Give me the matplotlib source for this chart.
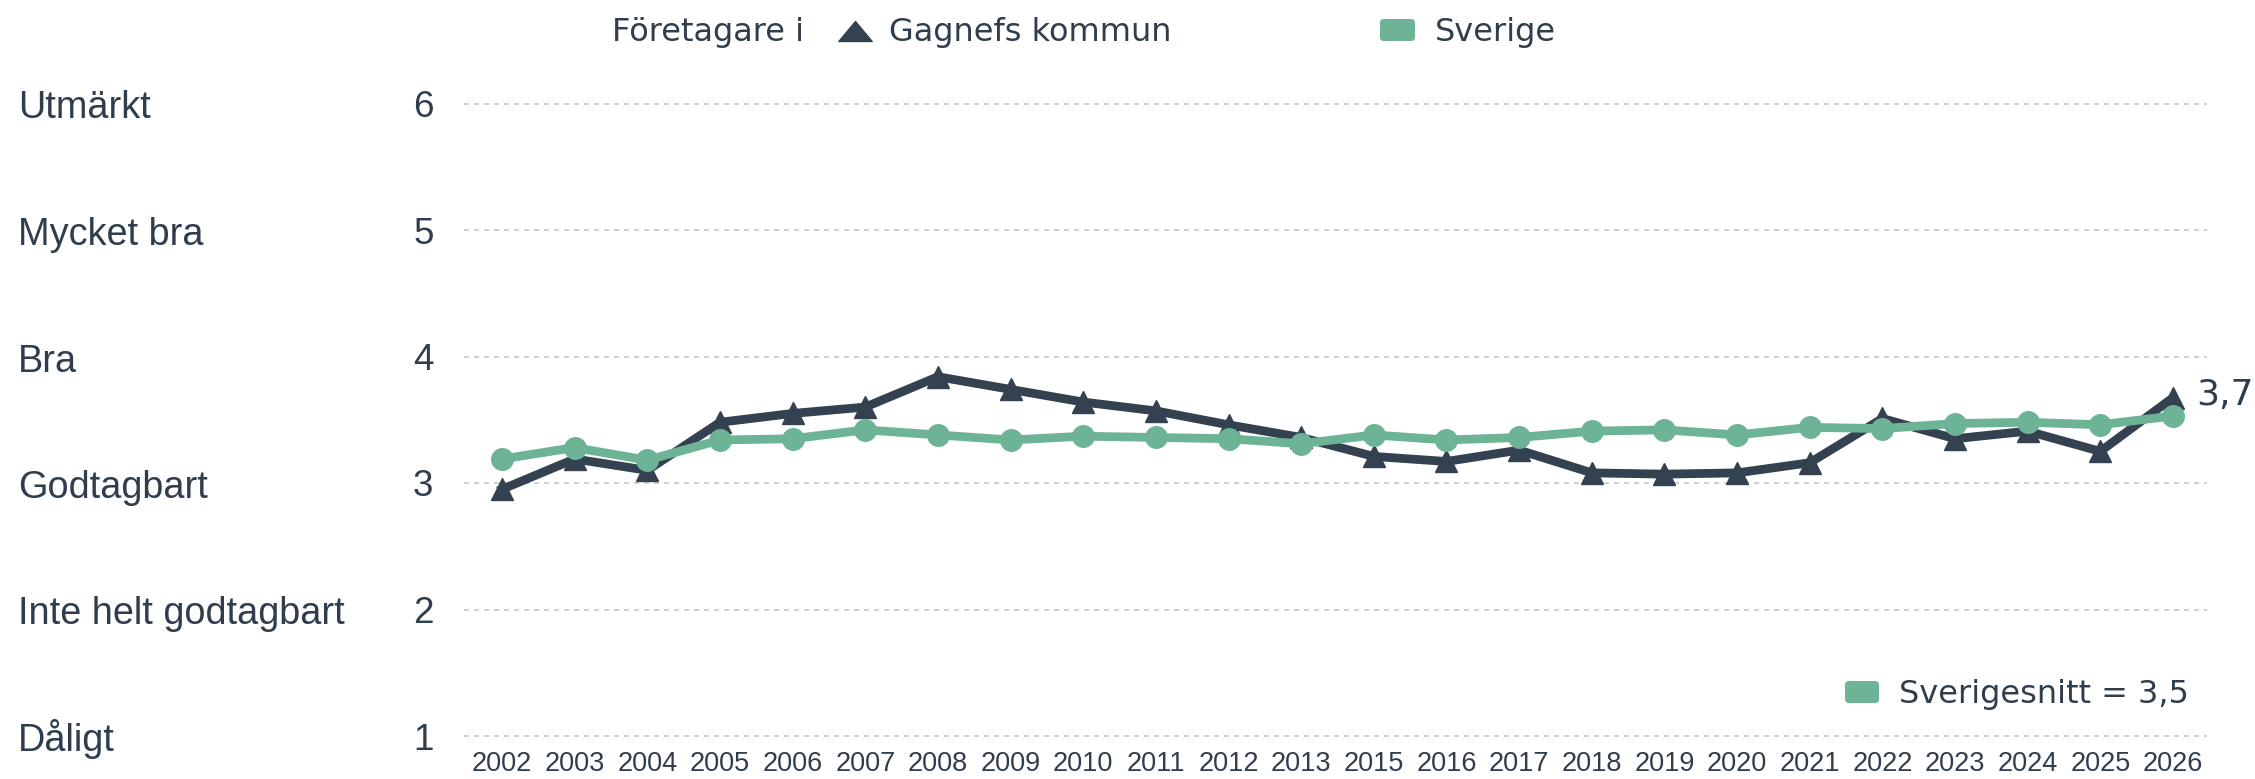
import matplotlib
matplotlib.use("Agg")
import matplotlib.pyplot as plt
from matplotlib.patches import FancyBboxPatch
from matplotlib.lines import Line2D
from matplotlib.path import Path
from matplotlib.transforms import blended_transform_factory, IdentityTransform

# ---------------- data ----------------
years = ["2002", "2003", "2004", "2005", "2006", "2007", "2008", "2009", "2010",
         "2011", "2012", "2013", "2015", "2016", "2017", "2018", "2019", "2020",
         "2021", "2022", "2023", "2024", "2025", "2026"]
gagnef = [2.95, 3.19, 3.10, 3.48, 3.55, 3.60, 3.84, 3.74, 3.64, 3.57, 3.46, 3.36,
          3.21, 3.17, 3.26, 3.08, 3.07, 3.08, 3.16, 3.51, 3.35, 3.41, 3.25, 3.675]
sverige = [3.19, 3.28, 3.18, 3.34, 3.35, 3.42, 3.38, 3.34, 3.37, 3.36, 3.35, 3.31,
           3.38, 3.34, 3.36, 3.41, 3.42, 3.38, 3.44, 3.43, 3.47, 3.48, 3.46, 3.53]
rating_levels = [1, 2, 3, 4, 5, 6]
rating_labels = ["Dåligt", "Inte helt godtagbart", "Godtagbart", "Bra",
                 "Mycket bra", "Utmärkt"]
legend_prefix = "Företagare i"
series_names = ["Gagnefs kommun", "Sverige"]
sverigesnitt = 3.5

# ---------------- style ----------------
DARK = "#334150"
GREEN = "#6db396"
TEXT = "#2f3d4c"
GRID = "#c8c8c8"
W, H = 2255, 779

fig = plt.figure(figsize=(W / 100, H / 100), dpi=100)
fig.patch.set_facecolor("white")
ax = fig.add_axes([464 / W, 1 - 736 / H, (2207 - 464) / W, (736 - 103.5) / H])

x = list(range(len(years)))
ax.plot(x, gagnef, color=DARK, lw=6.3, marker="^", ms=16, zorder=3,
        clip_on=False)
ax.plot(x, sverige, color=GREEN, lw=6.3, marker="o", ms=15.5, zorder=4,
        clip_on=False)

ax.set_xlim(-0.523, 23.468)
ax.set_ylim(1, 6)
ax.set_xticks(x)
ax.set_xticklabels(years, fontfamily="Liberation Sans", fontsize=19.5, color=TEXT)
ax.set_yticks(rating_levels)
ax.set_yticklabels([str(v) for v in rating_levels], fontfamily="Liberation Sans",
                   fontsize=26.5, color=TEXT)
ax.tick_params(axis="x", length=0, pad=11)
ax.tick_params(axis="y", length=0, pad=22)
ax.grid(axis="y", color=GRID, lw=1.2, ls=(0, (3, 3)))
ax.grid(axis="x", visible=False)
ax.set_axisbelow(True)
for gl in ax.get_ygridlines():
    gl.set_clip_on(False)
for s in ax.spines.values():
    s.set_visible(False)

# rating labels at the far left
trans = blended_transform_factory(fig.transFigure, ax.transData)
for lvl, lab in zip(rating_levels, rating_labels):
    ax.annotate(lab, xy=(18 / W, lvl), xycoords=trans, xytext=(0, -15 * 0.72),
                textcoords="offset points", ha="left", va="baseline",
                fontfamily="Liberation Sans", fontsize=27.3, color=TEXT)

# end label
ax.annotate(f"{gagnef[-1]:.1f}".replace(".", ","), xy=(x[-1], gagnef[-1]),
            xytext=(17, 2), textcoords="offset points", ha="left", va="center",
            fontfamily="DejaVu Sans", fontsize=26, color=TEXT, annotation_clip=False)

# ---------------- top legend ----------------
def fx(px):
    return px / W

def fy(py):
    return 1 - py / H

fig.text(fx(612), fy(41), legend_prefix, ha="left", va="baseline",
         fontfamily="DejaVu Sans", fontsize=23, color=TEXT)
tri = Path([(-1, -0.6), (1, -0.6), (0, 0.6), (-1, -0.6)],
           [Path.MOVETO, Path.LINETO, Path.LINETO, Path.CLOSEPOLY])
fig.add_artist(Line2D([fx(855)], [fy(31)], marker=tri, ms=24, color=DARK,
                      lw=0, transform=fig.transFigure))
fig.text(fx(889), fy(41), series_names[0], ha="left", va="baseline",
         fontfamily="DejaVu Sans", fontsize=23, color=TEXT)
fig.add_artist(FancyBboxPatch((1380, H - 41), 35, 22,
                              boxstyle="round,pad=0,rounding_size=4",
                              facecolor=GREEN, edgecolor="none",
                              transform=IdentityTransform()))
fig.text(fx(1435), fy(41), series_names[1], ha="left", va="baseline",
         fontfamily="DejaVu Sans", fontsize=23, color=TEXT)

# ---------------- bottom-right legend ----------------
fig.add_artist(FancyBboxPatch((1845, H - 703), 34, 22,
                              boxstyle="round,pad=0,rounding_size=4",
                              facecolor=GREEN, edgecolor="none",
                              transform=IdentityTransform()))
fig.text(fx(1899), fy(703), f"Sverigesnitt = {sverigesnitt:.1f}".replace(".", ","),
         ha="left", va="baseline", fontfamily="DejaVu Sans", fontsize=23, color=TEXT)

fig.savefig("out.png", dpi=100, facecolor="white")
